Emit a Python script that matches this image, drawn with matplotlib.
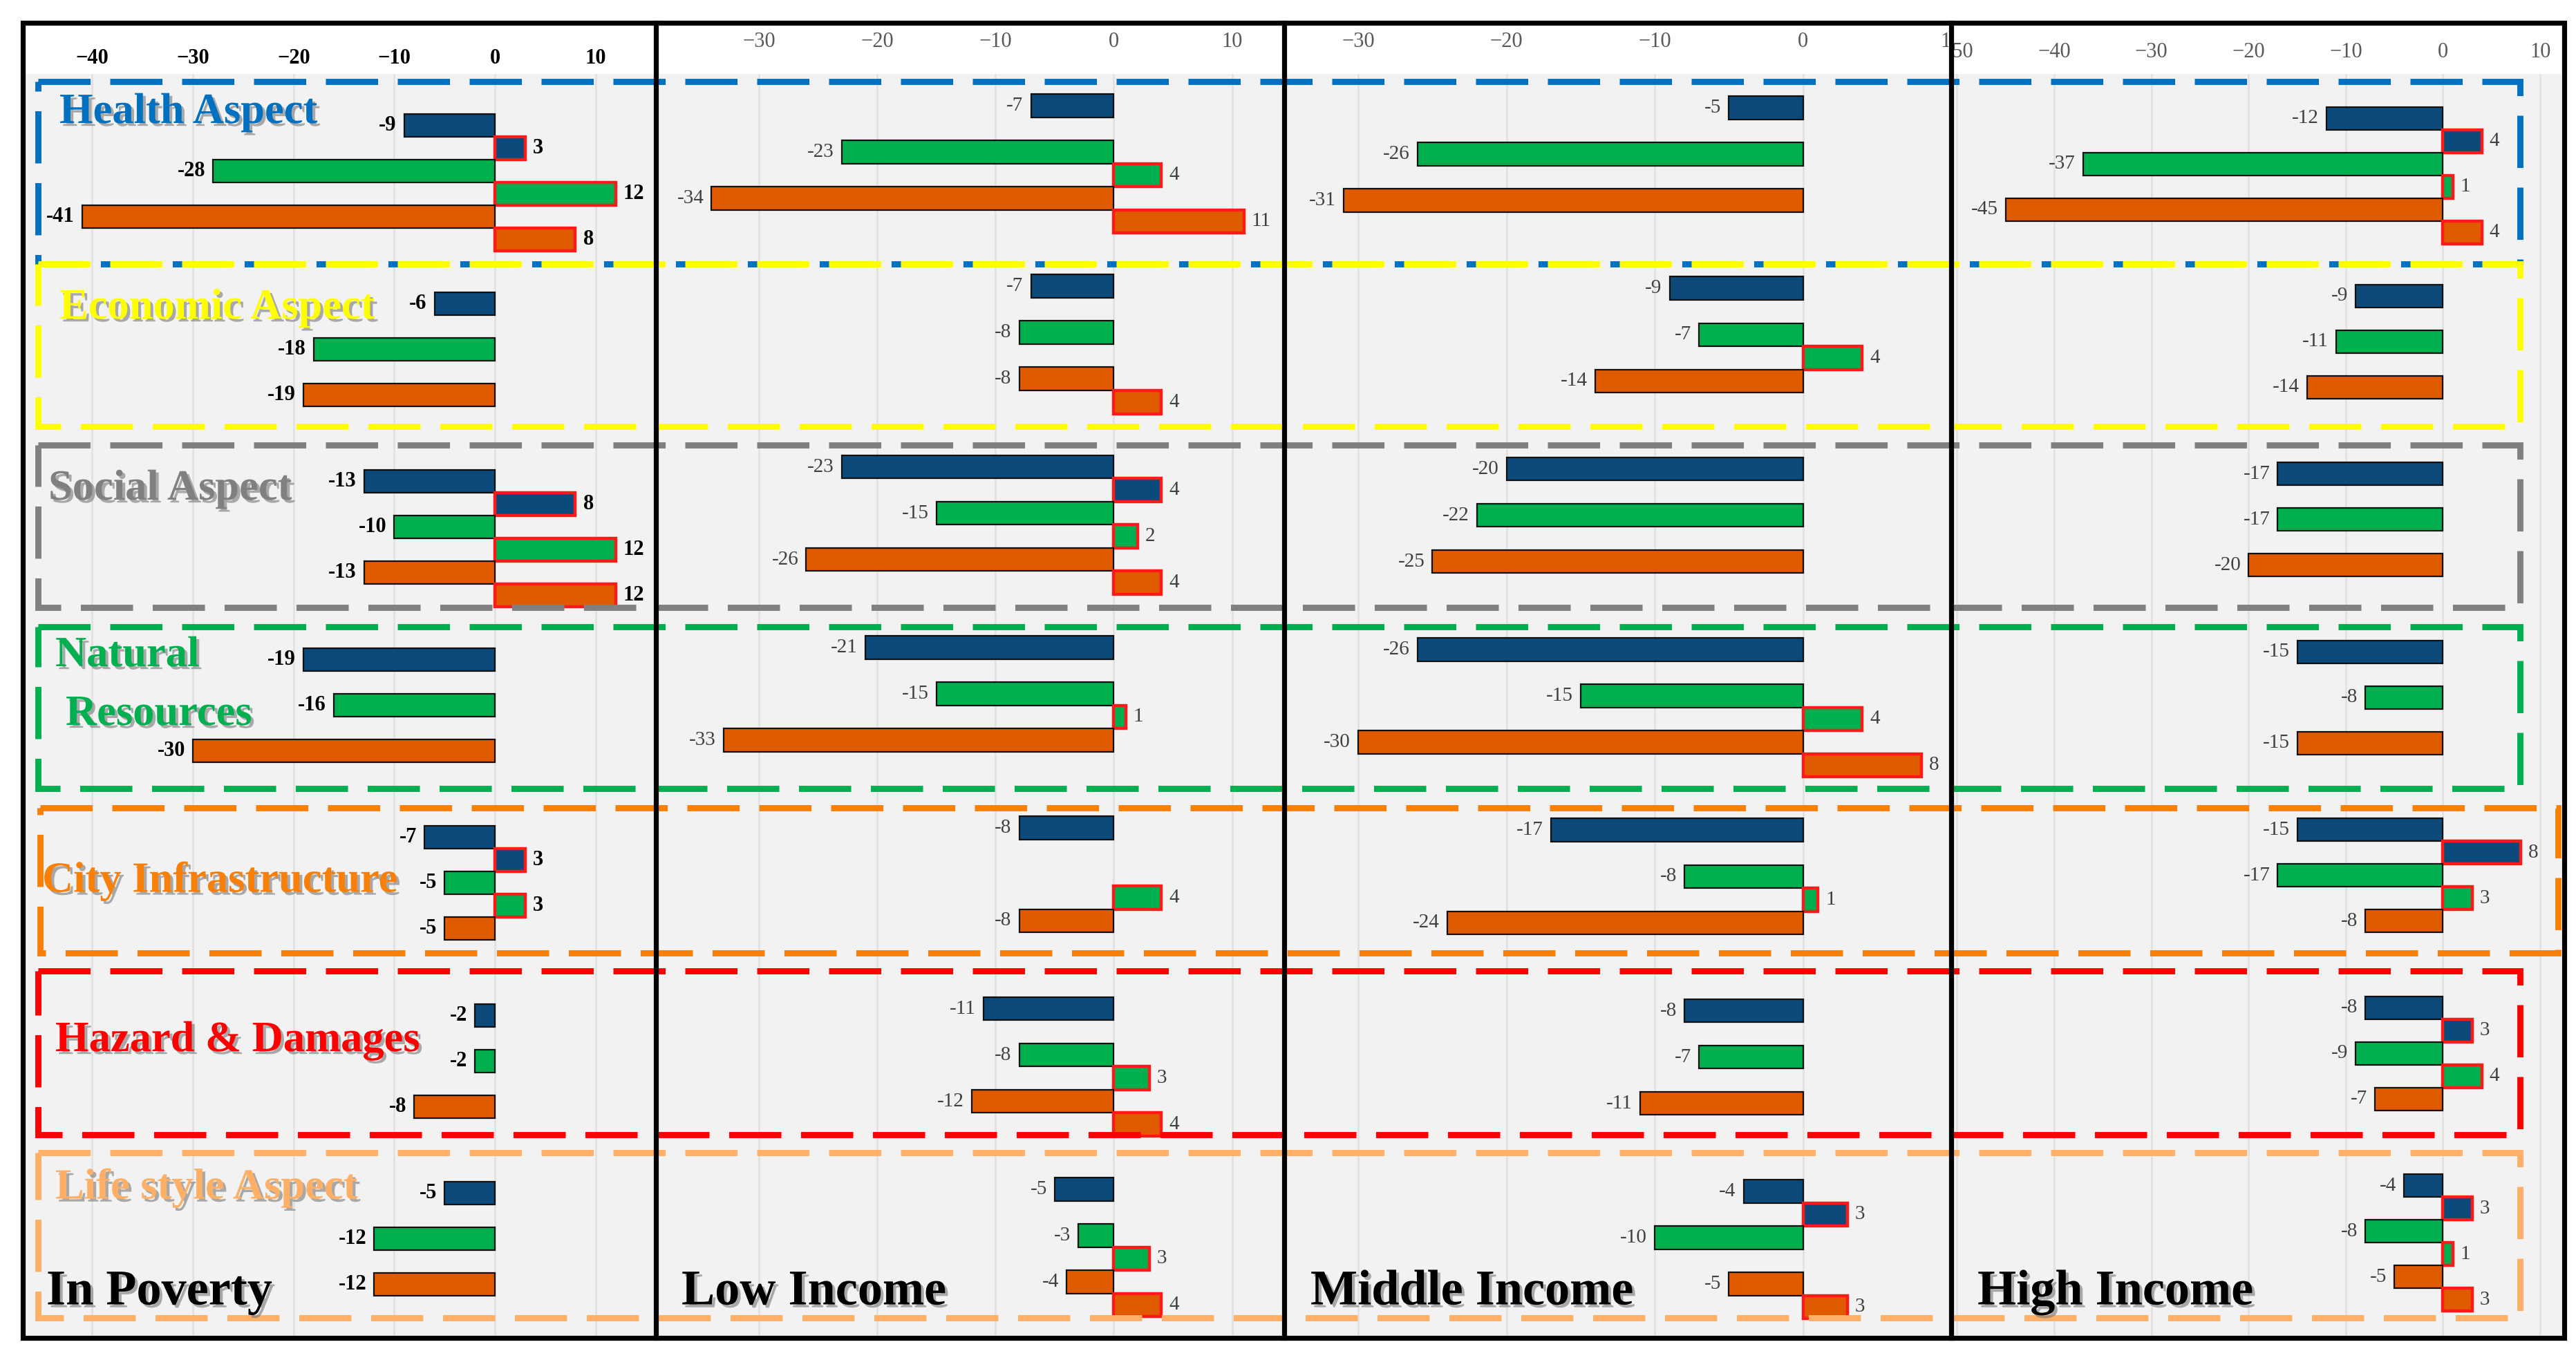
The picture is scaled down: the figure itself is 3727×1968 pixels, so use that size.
import matplotlib
matplotlib.use("Agg")
import matplotlib.pyplot as plt
import matplotlib.patheffects as pe
from matplotlib.patches import Rectangle
from matplotlib.transforms import Bbox, TransformedBbox

columns = ["In Poverty", "Low Income", "Middle Income", "High Income"]
aspects = ["Health Aspect", "Economic Aspect", "Social Aspect", "Natural Resources",
           "City Infrastructure", "Hazard & Damages", "Life style Aspect"]

# per aspect: blue -, blue +, green -, green +, orange -, orange +   (0 = no bar)
in_poverty = [[-9, 3, -28, 12, -41, 8],
              [-6, 0, -18, 0, -19, 0],
              [-13, 8, -10, 12, -13, 12],
              [-19, 0, -16, 0, -30, 0],
              [-7, 3, -5, 3, -5, 0],
              [-2, 0, -2, 0, -8, 0],
              [-5, 0, -12, 0, -12, 0]]
low_income = [[-7, 0, -23, 4, -34, 11],
              [-7, 0, -8, 0, -8, 4],
              [-23, 4, -15, 2, -26, 4],
              [-21, 0, -15, 1, -33, 0],
              [-8, 0, 0, 4, -8, 0],
              [-11, 0, -8, 3, -12, 4],
              [-5, 0, -3, 3, -4, 4]]
middle_income = [[-5, 0, -26, 0, -31, 0],
                 [-9, 0, -7, 4, -14, 0],
                 [-20, 0, -22, 0, -25, 0],
                 [-26, 0, -15, 4, -30, 8],
                 [-17, 0, -8, 1, -24, 0],
                 [-8, 0, -7, 0, -11, 0],
                 [-4, 3, -10, 0, -5, 3]]
high_income = [[-12, 4, -37, 1, -45, 4],
               [-9, 0, -11, 0, -14, 0],
               [-17, 0, -17, 0, -20, 0],
               [-15, 0, -8, 0, -15, 0],
               [-15, 8, -17, 3, -8, 0],
               [-8, 3, -9, 4, -7, 0],
               [-4, 3, -8, 1, -5, 3]]
all_data = [in_poverty, low_income, middle_income, high_income]

xticks = [[-40, -30, -20, -10, 0, 10],
          [-30, -20, -10, 0, 10],
          [-30, -20, -10, 0, 10],
          [-50, -40, -30, -20, -10, 0, 10]]

bar_colors = ["#0b4a7a", "#00b04f", "#e05a00"]
box_colors = ["#0070c0", "#ffff00", "#808080", "#00b050", "#f98008", "#ff0000", "#ffb066"]

W, H, DPI = 3727, 1968, 200
fig = plt.figure(figsize=(W / DPI, H / DPI), dpi=DPI)
fig.patch.set_facecolor("white")

# layout in pixels
col_x = [(33, 949), (949, 1858), (1858, 2823), (2823, 3706)]
xlims = [(-46.9, 16.0), (-38.7, 14.4), (-35.0, 10.0), (-50.6, 12.2)]
ylims = [(53.15, -2.27), (53.22, -1.37), (53.13, -1.46), (53.48, -1.94)]
tick_pad = [3, 11.5, 11.5, 6]
ax_top, ax_bot = 107, 1936
pitch = 7.8
serif = "Liberation Serif"

for c in range(4):
    x0, x1 = col_x[c]
    ax = fig.add_axes([x0 / W, 1 - ax_bot / H, (x1 - x0) / W, (ax_bot - ax_top) / H])
    ax.set_facecolor("#f2f2f2")
    for s in ax.spines.values():
        s.set_visible(False)
    ax.set_xlim(*xlims[c])
    ax.set_ylim(*ylims[c])
    ax.set_yticks([])
    ax.set_xticks(xticks[c])
    ax.xaxis.set_ticks_position("top")
    ax.tick_params(axis="x", length=0, pad=tick_pad[c])
    ax.grid(axis="x", color="#e2e2e2", lw=1)
    ax.set_axisbelow(True)
    bold = c == 0
    # tick labels at the column edges are cut by the frame, as in the original
    clip = TransformedBbox(Bbox([[(x0 + 4) / W, 0], [(x1 - 4) / W, 1]]), fig.transFigure)
    for lab in ax.get_xticklabels():
        lab.set_fontfamily(serif)
        lab.set_fontsize(11)
        lab.set_fontweight("bold" if bold else "normal")
        lab.set_color("black" if bold else "#595959")
        lab.set_clip_box(clip)
        lab.set_clip_on(True)
    data = all_data[c]
    for g in range(len(aspects)):
        for s in range(6):
            v = data[g][s]
            if v == 0:
                continue
            pos = v > 0
            bars = ax.barh(g * pitch + s, v, height=1.0, color=bar_colors[s // 2],
                           edgecolor="#ff1a1a" if pos else "#111111",
                           linewidth=1.6 if pos else 0.8)
            ax.bar_label(bars, fmt="%d", padding=4, fontfamily=serif,
                         fontsize=11 if bold else 10.5,
                         fontweight="bold" if bold else "normal",
                         color="black" if bold else "#404040")

# overlay for frames, dashed boxes and labels
ov = fig.add_axes([0, 0, 1, 1], zorder=10)
ov.set_xlim(0, W)
ov.set_ylim(H, 0)
ov.axis("off")
ov.patch.set_alpha(0)

boxes = [(55, 118, 3646, 382), (55, 382, 3646, 617), (55, 644, 3646, 879),
         (55, 907, 3646, 1141), (58, 1169, 3701, 1379), (55, 1405, 3646, 1642),
         (55, 1668, 3646, 1907)]
for (bx0, by0, bx1, by1), col in zip(boxes, box_colors):
    ov.add_patch(Rectangle((bx0, by0), bx1 - bx0, by1 - by0, fill=False,
                           edgecolor=col, lw=3.2, linestyle=(0, (8.5, 3.2))))

# black frames
ov.add_patch(Rectangle((33, 33), 3677, 1903, fill=False, edgecolor="black", lw=2.6))
for xs in [949, 1858, 2823]:
    ov.plot([xs, xs], [33, 1936], color="black", lw=2.6)

shadow = [pe.withSimplePatchShadow(offset=(1.5, -1.5), shadow_rgbFace="#777777", alpha=0.6)]
label_pos = [(86, 163), (86, 446), (70, 708), (80, 949), (61, 1275), (80, 1506), (80, 1719)]
for i, name in enumerate(aspects):
    x, y = label_pos[i]
    if i == 3:
        ov.text(80, 949, "Natural", fontfamily=serif, fontweight="bold", fontsize=22.5,
                color=box_colors[i], va="center", path_effects=shadow)
        ov.text(95, 1034, "Resources", fontfamily=serif, fontweight="bold", fontsize=22.5,
                color=box_colors[i], va="center", path_effects=shadow)
        continue
    ov.text(x, y, name, fontfamily=serif, fontweight="bold", fontsize=22.5,
            color=box_colors[i], va="center", path_effects=shadow)

title_x = [67, 986, 1896, 2861]
for t, x in zip(columns, title_x):
    ov.text(x, 1870, t, fontfamily=serif, fontweight="bold", fontsize=26,
            color="black", va="center", path_effects=shadow)

fig.savefig("out.png", dpi=DPI)
